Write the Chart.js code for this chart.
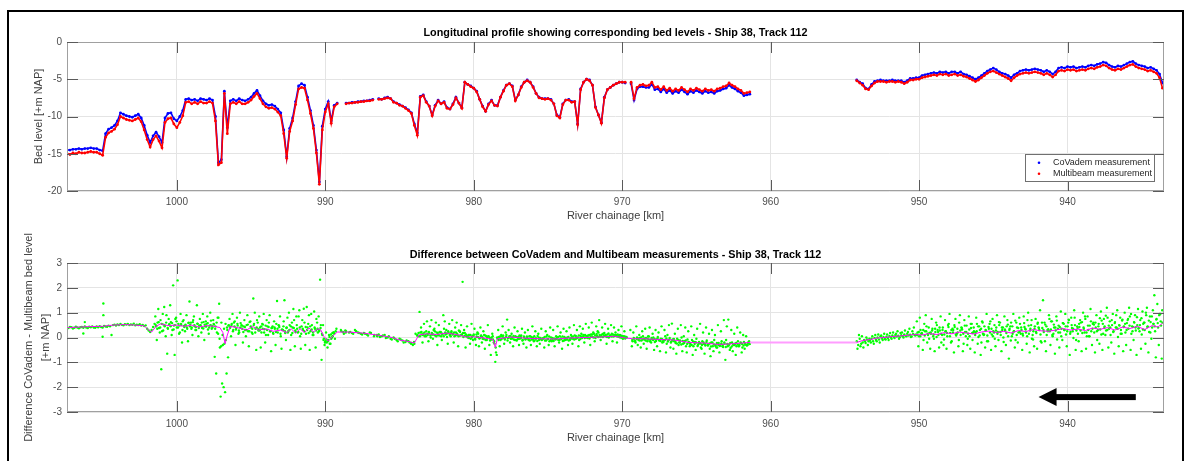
<!DOCTYPE html>
<html>
<head>
<meta charset="utf-8">
<title>CoVadem vs Multibeam - Ship 38, Track 112</title>
<script src="https://cdn.jsdelivr.net/npm/chart.js@4.4.1/dist/chart.umd.min.js"></script>
<style>
  html, body { margin: 0; padding: 0; background: #fff; }
  body { width: 1191px; height: 461px; position: relative; overflow: hidden; }
  canvas { position: absolute; left: 0; }
  #profile { top: 0; }
  #difference { top: 230px; }
  .frame { position: absolute; left: 7px; top: 10px; width: 1177px; height: 470px;
           border: 2px solid #000; border-bottom: none; box-sizing: border-box; pointer-events: none; }
</style>
</head>
<body>
<canvas id="profile" width="1191" height="230"></canvas>
<canvas id="difference" width="1191" height="231"></canvas>
<div class="frame"></div>
<script>
// ---------------------------------------------
// axis ranges and ticks (river chainage runs downstream to the right)
// ---------------------------------------------
const KM_MIN = 933.5;
const KM_MAX = 1007.4;
const kmTicks = [1000, 990, 980, 970, 960, 950, 940];
const bedTicks = [0, -5, -10, -15, -20];
const diffTicks = [3, 2, 1, 0, -1, -2, -3];

// ---------------------------------------------
// bed levels, sampled every 0.2 km
// west stretch starts at km 1007.4, east stretch at km 954.2
// ---------------------------------------------
const BED_STEP = 0.2;
const WEST_START = 1007.4;
const EAST_START = 954.2;

const covademWest = [
  -14.5,-14.5,-14.4,-14.4,-14.3,-14.4,-14.3,-14.3,-14.2,-14.3,   // 1007.4
  -14.3,-14.5,-14.6,-12.3,-11.7,-11.5,-11.2,-10.6,-9.5,-9.7,     // 1005.4
  -9.9,-10.0,-10.1,-9.9,-9.7,-10.2,-11.2,-12.5,-13.5,-12.6,      // 1003.4
  -12.1,-12.7,-13.5,-10.2,-9.6,-9.5,-10.3,-10.6,-10.0,-9.2,      // 1001.4
  -7.7,-7.6,-7.8,-7.7,-7.9,-7.6,-7.7,-7.8,-7.6,-7.8,             // 999.4
  -10.0,-16.2,-15.8,-6.6,-11.5,-7.9,-7.7,-7.9,-7.6,-7.8,         // 997.4
  -7.9,-7.7,-7.4,-6.9,-6.5,-7.2,-7.9,-8.3,-8.5,-8.4,             // 995.4
  -8.6,-9.0,-9.5,-11.8,-15.4,-11.6,-10.2,-8.0,-5.9,-5.6,         // 993.4
  -5.8,-7.4,-9.2,-11.2,-14.5,-18.8,-11.3,-9.0,-8.0,-10.6,        // 991.4
  -8.5,-8.2,null,null,-8.2,-8.2,-8.1,-8.1,-8.0,-8.0,             // 989.4
  -7.9,-7.9,-7.8,-7.7,null,-7.6,-7.7,-7.5,-7.4,-7.6,             // 987.4
  -8.0,-8.2,-8.4,-8.6,-8.8,-9.1,-9.5,-11.0,-12.2,-7.3,           // 985.4
  -7.1,-8.0,-8.6,-9.8,-8.5,-7.8,-8.3,-8.0,-8.8,-9.0,             // 983.4
  -8.3,-7.4,-8.2,-8.8,-5.4,-5.7,-5.9,-6.2,-6.6,-7.7,             // 981.4
  -8.6,-9.3,-8.3,-7.8,-8.5,-8.5,-7.4,-6.5,-5.8,-5.6,             // 979.4
  -5.9,-7.8,-7.1,-6.0,-5.4,-5.1,-5.4,-6.0,-6.9,-7.4,             // 977.4
  -7.6,-7.6,-7.6,-7.7,-8.3,-9.8,-10.1,-8.3,-7.8,-7.7,            // 975.4
  -8.0,-8.0,-11.0,-6.3,-5.4,-5.0,-5.1,-5.8,-8.7,-9.8,            // 973.4
  -10.8,-7.4,-6.4,-6.1,-5.8,-5.6,-5.4,-5.4,-5.5,null,            // 971.4
  -5.6,-7.8,-6.3,-6.0,-6.0,-6.1,-6.1,-5.7,-6.4,-6.3,             // 969.4
  -6.7,-6.3,-6.8,-6.5,-6.9,-6.6,-6.8,-6.4,-6.7,-7.0,             // 967.4
  -6.6,-6.8,-6.5,-6.7,-6.9,-6.6,-6.8,-6.7,-6.9,-6.6,             // 965.4
  -6.5,-6.3,-6.2,-5.8,-6.1,-6.3,-6.6,-6.8,-7.2,-7.1,             // 963.4
  -7.0                                                           // 961.4
];

const multibeamWest = [
  -15.0,-15.1,-14.9,-15.0,-14.8,-14.9,-14.9,-14.8,-14.7,-14.8,   // 1007.4
  -14.8,-15.0,-15.2,-12.8,-12.2,-12.0,-11.7,-11.1,-10.0,-10.2,   // 1005.4
  -10.4,-10.5,-10.6,-10.4,-10.2,-10.7,-11.8,-13.1,-14.1,-13.1,   // 1003.4
  -12.6,-13.3,-14.2,-10.8,-10.3,-10.2,-11.0,-11.5,-10.8,-9.9,    // 1001.4
  -8.1,-8.0,-8.3,-8.1,-8.3,-8.0,-8.2,-8.2,-8.0,-8.2,             // 999.4
  -10.6,-16.5,-16.2,-6.9,-12.3,-8.3,-8.1,-8.3,-8.0,-8.3,         // 997.4
  -8.3,-8.1,-7.8,-7.3,-6.9,-7.6,-8.3,-8.7,-8.9,-8.8,             // 995.4
  -9.0,-9.4,-9.9,-12.3,-15.6,-12.0,-10.6,-8.4,-6.3,-6.1,         // 993.4
  -6.2,-7.8,-9.6,-11.6,-14.9,-19.1,-11.8,-9.4,-8.3,-10.9,        // 991.4
  -8.7,-8.3,null,null,-8.3,-8.2,-8.2,-8.1,-8.1,-8.0,             // 989.4
  -8.0,-7.9,-7.9,-7.8,null,-7.7,-7.7,-7.6,-7.5,-7.6,             // 987.4
  -8.1,-8.2,-8.5,-8.6,-8.9,-9.2,-9.6,-11.2,-12.5,-7.4,           // 985.4
  -7.2,-8.1,-8.6,-9.9,-8.6,-7.9,-8.3,-8.1,-8.9,-9.0,             // 983.4
  -8.4,-7.5,-8.2,-8.9,-5.4,-5.7,-6.0,-6.2,-6.7,-7.7,             // 981.4
  -8.7,-9.3,-8.4,-7.9,-8.5,-8.6,-7.4,-6.6,-5.8,-5.6,             // 979.4
  -6.0,-7.9,-7.1,-6.1,-5.4,-5.2,-5.4,-6.1,-6.9,-7.5,             // 977.4
  -7.6,-7.7,-7.6,-7.8,-8.3,-9.9,-10.2,-8.4,-7.8,-7.8,            // 975.4
  -8.1,-8.0,-11.1,-6.4,-5.4,-5.0,-5.2,-5.8,-8.8,-9.8,            // 973.4
  -10.9,-7.5,-6.4,-6.1,-5.8,-5.6,-5.4,-5.4,-5.4,null,            // 971.4
  -5.4,-7.6,-6.1,-5.8,-5.7,-5.9,-5.8,-5.4,-6.1,-6.0,             // 969.4
  -6.4,-6.0,-6.5,-6.2,-6.6,-6.3,-6.5,-6.1,-6.4,-6.7,             // 967.4
  -6.3,-6.5,-6.2,-6.4,-6.6,-6.3,-6.5,-6.4,-6.6,-6.3,             // 965.4
  -6.2,-6.0,-5.9,-5.5,-5.8,-6.0,-6.3,-6.5,-6.9,-6.8,             // 963.4
  -6.7                                                           // 961.4
];

const covademEast = [
  -5.1,-5.4,-5.6,-6.2,-6.3,-5.7,-5.3,-5.2,-5.1,-5.2,   // 954.2
  -5.2,-5.2,-5.1,-5.2,-5.2,-5.2,-5.4,-5.2,-4.9,-4.9,   // 952.2
  -4.8,-4.8,-4.5,-4.4,-4.3,-4.2,-4.1,-4.2,-4.0,-4.1,   // 950.2
  -4.0,-4.2,-4.0,-4.0,-4.2,-4.0,-4.3,-4.4,-4.6,-4.8,   // 948.2
  -5.0,-4.8,-4.5,-4.2,-3.9,-3.7,-3.5,-3.7,-4.0,-4.2,   // 946.2
  -4.3,-4.5,-4.8,-4.4,-4.2,-3.9,-3.8,-3.7,-3.8,-3.7,   // 944.2
  -3.6,-3.7,-3.8,-4.0,-3.8,-4.0,-4.3,-4.0,-3.5,-3.4,   // 942.2
  -3.5,-3.3,-3.4,-3.3,-3.5,-3.4,-3.3,-3.4,-3.2,-3.1,   // 940.2
  -3.2,-3.0,-2.9,-2.7,-2.8,-3.1,-3.3,-3.4,-3.2,-3.3,   // 938.2
  -3.1,-2.9,-2.7,-2.6,-2.9,-3.1,-3.2,-3.3,-3.5,-3.4,   // 936.2
  -3.6,-3.8,-4.3,-5.5                                  // 934.2
];

const multibeamEast = [
  -5.2,-5.5,-5.8,-6.3,-6.4,-5.9,-5.5,-5.3,-5.3,-5.3,   // 954.2
  -5.4,-5.3,-5.3,-5.4,-5.3,-5.4,-5.6,-5.4,-5.1,-5.1,   // 952.2
  -5.0,-5.0,-4.8,-4.7,-4.6,-4.5,-4.4,-4.5,-4.3,-4.4,   // 950.2
  -4.3,-4.5,-4.4,-4.3,-4.5,-4.4,-4.6,-4.7,-4.9,-5.1,   // 948.2
  -5.3,-5.1,-4.8,-4.5,-4.2,-4.0,-3.9,-4.1,-4.3,-4.5,   // 946.2
  -4.7,-4.9,-5.2,-4.8,-4.5,-4.3,-4.2,-4.1,-4.2,-4.1,   // 944.2
  -4.0,-4.1,-4.2,-4.4,-4.2,-4.4,-4.7,-4.4,-3.9,-3.8,   // 942.2
  -3.9,-3.7,-3.8,-3.7,-3.9,-3.8,-3.7,-3.8,-3.6,-3.5,   // 940.2
  -3.6,-3.4,-3.3,-3.1,-3.2,-3.5,-3.7,-3.8,-3.6,-3.7,   // 938.2
  -3.5,-3.3,-3.1,-3.0,-3.3,-3.5,-3.6,-3.7,-3.9,-3.8,   // 936.2
  -4.0,-4.2,-4.8,-6.2                                  // 934.2
];

// ---------------------------------------------
// CoVadem - Multibeam differences, every 0.1 km
// ---------------------------------------------
const DIFF_STEP = 0.1;

const diffWest = [
  .40,.38,.42,.41,.36,.39,.43,.40,.37,.41,        // 1007.4
  .42,.39,.44,.40,.38,.43,.41,.45,.40,.39,        // 1006.4
  .44,.41,.46,.42,.40,.47,.44,.43,.48,.45,        // 1005.4
  .10,.50,.52,.48,.53,.50,.55,.51,.49,.54,        // 1004.4
  .52,.55,.50,.53,.51,.56,.49,.52,.50,.54,        // 1003.4
  .48,.51,.46,.49,.35,.28,.22,.30,.42,.55,        // 1002.4
  .45,.60,.38,.70,.25,.52,.48,.90,.35,.55,        // 1001.4
  .62,.30,.48,.75,.40,.55,.20,.50,.65,.42,        // 1000.4
  .48,.35,.60,.52,.40,.70,.45,.30,.55,.48,        // 999.4
  .50,.38,.62,.45,.55,.32,.48,.68,.40,.52,        // 998.4
  .45,.20,.80,-.40,.60,-.30,-.25,-.10,.30,.50,    // 997.4
  .42,.55,.30,.65,.38,.48,.20,.58,.35,.45,        // 996.4
  .30,.50,.25,.62,.40,.15,.55,.35,.70,.28,        // 995.4
  .40,.20,.52,.33,.10,.45,.60,.25,.38,.15,        // 994.4
  .35,.55,.20,.42,.05,.30,.65,.18,.40,.25,        // 993.4
  .50,.10,.40,.70,.22,.35,.85,.05,.45,.30,        // 992.4
  .60,.15,.40,.90,.25,.50,.10,.35,.75,.20,        // 991.4
  .30,.50,.10,-.05,-.15,-.20,-.10,-.25,-.05,.05,  // 990.4
  .15,.25,null,null,null,null,.22,null,.25,null,  // 989.4
  .20,null,.18,null,.30,null,.20,null,.15,null,   // 988.4
  .18,null,.12,null,.20,null,null,.10,null,.05,   // 987.4
  .12,null,.05,null,.10,null,.00,null,-.05,null,  // 986.4
  .00,null,-.10,null,-.05,null,-.12,null,-.18,null, // 985.4
  -.15,null,-.22,-.30,-.25,null,.10,.05,.20,.12,  // 984.4
  .15,.05,.25,.10,.18,.00,.12,.30,.08,.20,        // 983.4
  .10,.22,.05,.15,.35,.12,.02,.20,.10,.25,        // 982.4
  .15,.05,.20,.10,.28,.08,.12,.02,.18,.05,        // 981.4
  .00,.10,-.05,.05,.12,-.08,.02,.15,-.02,.08,     // 980.4
  -.05,.10,-.10,.02,.05,-.12,.00,-.08,-.25,-.60,  // 979.4
  -.05,.02,-.10,.05,.00,-.08,.10,-.02,.05,-.05,   // 978.4
  .00,-.08,.05,-.12,.02,-.05,.08,-.10,.00,-.06,   // 977.4
  -.02,-.10,.05,-.08,.00,-.12,-.04,.06,-.10,-.02, // 976.4
  -.08,-.02,-.12,.04,-.06,-.15,.00,-.10,-.04,-.08, // 975.4
  -.02,-.10,.05,-.06,-.14,.02,-.08,.00,-.12,-.04, // 974.4
  .02,-.06,.08,-.04,.00,-.10,.06,-.02,.04,.10,    // 973.4
  .00,.08,-.04,.12,.02,.15,-.02,.06,.20,.04,      // 972.4
  .10,.02,.18,.05,.12,.00,.08,.15,.04,.10,        // 971.4
  .06,.12,.02,.08,-.02,.05,-.04,.00,null,null,    // 970.4
  null,-.15,-.05,-.20,.00,-.10,-.02,-.12,.05,-.08, // 969.4
  -.02,-.15,.04,-.10,-.06,.00,-.18,-.08,.02,-.12, // 968.4
  -.05,-.20,-.10,.05,-.25,-.12,-.02,-.18,-.08,-.15, // 967.4
  -.22,-.05,-.30,-.12,.00,-.25,-.15,-.35,-.08,-.20, // 966.4
  -.28,-.10,-.35,-.18,-.05,-.30,-.22,-.40,-.15,-.25, // 965.4
  -.32,-.12,-.28,-.45,-.20,-.35,-.10,-.30,-.40,-.22, // 964.4
  -.30,-.15,-.38,-.25,-.10,-.35,-.28,-.42,-.20,-.30, // 963.4
  -.25,-.35,-.15,-.30,-.22,-.40,-.18,-.28,-.32,-.20, // 962.4
  -.25                                              // 961.4
];

const diffEast = [
  -.15,-.30,-.05,-.25,-.20,-.10,-.22,-.08,-.15,-.12, // 954.2
  -.05,-.15,-.02,-.10,.00,-.08,.05,-.04,.02,-.06,    // 953.2
  .03,-.02,.06,.00,.08,.02,.10,.04,.07,.01,          // 952.2
  .09,.05,.12,.06,.15,.08,.11,.04,.14,.10,           // 951.2
  .12,.20,.05,.30,.15,-.10,.25,.45,.10,.18,          // 950.2
  .15,.35,-.05,.22,.50,.10,.28,-.20,.40,.12,         // 949.2
  .25,.05,.55,.18,-.15,.30,.42,.08,.20,.60,          // 948.2
  .10,.32,-.25,.22,.48,.15,.05,.38,-.10,.25,         // 947.2
  .20,.55,.02,.30,-.20,.15,.45,.28,.08,.35,          // 946.2
  .65,.12,.25,-.05,.40,.22,.50,.10,.30,-.18,         // 945.2
  .28,.45,.05,.35,.60,.15,.25,-.10,.40,.20,          // 944.2
  .55,.30,.08,.42,.20,.70,.15,.35,-.05,.25,          // 943.2
  .45,.18,.60,.30,-.15,.38,.22,.52,.10,.33,          // 942.2
  .25,.65,.05,.40,.28,-.08,.48,.20,.35,.58,          // 941.2
  .30,.12,.45,.70,.22,.38,-.02,.50,.28,.15,          // 940.2
  .42,.60,.18,.35,.75,.05,.30,.48,.25,.55,           // 939.2
  .20,.40,-.10,.55,.32,.68,.15,.45,.28,.80,          // 938.2
  .35,.10,.50,.25,.62,.40,.02,.48,.30,.72,           // 937.2
  .45,.20,.58,.35,.85,.15,.42,.60,.28,.50,           // 936.2
  .38,.70,.12,.55,.30,.90,.45,.22,.62,.40,           // 935.2
  .55,.25,.75,.40,.95,.48,.60                        // 934.2
];

// second pass of the same survey, denser around the mean
const diffWestDense = [
  .50,.35,.62,.40,.55,.28,.45,.60,.38,.52,          // 1001.42
  .45,.58,.32,.50,.65,.40,.48,.55,.30,.47,          // 1000.42
  .52,.40,.58,.45,.35,.62,.50,.42,.56,.38,          // 999.42
  .48,.60,.36,.52,.44,.58,.40,.50,.46,.55,          // 998.42
  .35,.60,.15,-.05,-.35,.10,.35,.55,.40,.48,        // 997.42
  .38,.50,.25,.45,.32,.55,.28,.40,.48,.22,          // 996.42
  .42,.30,.52,.25,.45,.35,.50,.20,.40,.33,          // 995.42
  .28,.45,.35,.20,.48,.30,.42,.25,.38,.18,          // 994.42
  .40,.22,.35,.48,.15,.32,.45,.25,.38,.20,          // 993.42
  .30,.45,.18,.38,.28,.50,.22,.40,.15,.35,          // 992.42
  .25,.42,.30,.18,.45,.32,.20,.40,.28,.35,          // 991.42
  .25,.38,.15,-.10,-.20,-.08,-.15,.02,.12,.18,      // 990.42
  .20,null,null,null,null,.25,null,null,.20,null,   // 989.42
  null,.22,null,.15,null,.25,null,.18,null,.12,     // 988.42
  null,.15,null,.08,null,.18,null,.05,null,.10,     // 987.42
  null,.02,null,.08,null,-.02,null,.05,null,-.08,   // 986.42
  null,-.05,null,-.15,null,-.08,null,-.20,null,-.12, // 985.42
  null,-.20,-.25,null,-.18,.15,.08,.18,.05,.22,     // 984.42
  .10,.20,.05,.15,.22,.08,.18,.12,.25,.05,          // 983.42
  .18,.08,.22,.12,.05,.20,.15,.25,.10,.18,          // 982.42
  .12,.20,.08,.15,.05,.22,.10,.18,.06,.12,          // 981.42
  .05,-.02,.10,.00,.08,-.05,.12,.02,-.04,.06,       // 980.42
  .02,-.06,.08,-.10,.04,-.02,-.08,.05,-.15,-.40,    // 979.42
  .00,-.10,.04,-.06,.08,-.04,.02,-.12,.00,.06,      // 978.42
  -.04,.06,-.10,.02,-.06,.08,-.02,-.12,.04,-.08,    // 977.42
  .04,-.06,-.12,.02,-.08,.05,-.04,-.14,.00,-.06,    // 976.42
  -.10,-.04,.02,-.12,-.06,.04,-.10,-.02,-.14,-.06,  // 975.42
  -.06,.02,-.10,-.04,.04,-.12,-.02,-.08,.02,-.10,   // 974.42
  -.04,.04,-.08,.06,-.02,.08,-.06,.02,.10,-.02,     // 973.42
  .06,-.02,.10,.04,.12,.00,.08,.14,.02,.10,         // 972.42
  .04,.14,.06,.10,.02,.16,.08,.04,.12,.06,          // 971.42
  .10,.04,.08,.00,.06,-.02,.04,.02,null,null,       // 970.42
  null,-.10,-.02,-.14,-.06,-.04,-.12,.00,-.08,-.04, // 969.42
  -.12,-.04,-.08,-.16,-.02,-.10,-.06,-.14,-.04,-.10, // 968.42
  -.14,-.06,-.18,-.10,-.04,-.16,-.08,-.20,-.12,-.06, // 967.42
  -.16,-.24,-.10,-.20,-.28,-.14,-.22,-.12,-.26,-.18, // 966.42
  -.22,-.30,-.16,-.26,-.20,-.34,-.18,-.24,-.30,-.20, // 965.42
  -.26,-.18,-.32,-.24,-.36,-.20,-.28,-.34,-.22,-.30, // 964.42
  -.34,-.24,-.30,-.20,-.38,-.26,-.32,-.22,-.36,-.28, // 963.42
  -.30,-.22,-.28,-.34,-.20,-.26,-.32,-.24,-.30,-.22, // 962.42
  -.26                                               // 961.42
];

const diffEastDense = [
  .10,.22,.05,.18,.30,.08,.25,.15,-.05,.20,   // 950.12
  .28,.12,.35,.02,.22,.40,.15,.30,-.08,.25,   // 949.12
  .18,.42,.05,.30,.20,.50,.12,.35,-.10,.28,   // 948.12
  .38,.15,.48,.22,-.05,.32,.55,.18,.40,.10,   // 947.12
  .25,.45,.08,.35,.60,.12,.30,-.15,.42,.20,   // 946.12
  .35,.05,.50,.28,.15,.62,.22,.40,.00,.32,    // 945.12
  .18,.52,.30,-.12,.45,.25,.68,.10,.38,.22,   // 944.12
  .40,.15,.58,.32,.05,.48,.28,.70,-.08,.35,   // 943.12
  .22,.55,.38,.12,.60,.30,-.15,.45,.25,.75,   // 942.12
  .32,.10,.52,.40,.68,.20,.42,.05,.58,.30,    // 941.12
  .45,.25,.72,.15,.50,.35,.80,-.10,.38,.55,   // 940.12
  .28,.62,.40,.85,.20,.48,.05,.65,.35,.52,    // 939.12
  .60,.25,.45,.78,.12,.55,.38,.88,.30,.48,    // 938.12
  .40,.70,.22,.58,.90,.35,.50,.15,.68,.42,    // 937.12
  .55,.30,.75,.48,.95,.25,.62,.40,.82,.36,    // 936.12
  .50,.78,.32,.60,1.00,.42,.68,.20,.85,.55,   // 935.12
  .45,.72,.58,.90,.65,1.10                    // 934.12
];

// wider scatter in the noisy stretches
const spreadA = [
  .85,-.10,1.15,.20,-1.28,.95,1.23,.05,-.65,.75,          // 1001.45
  1.30,.10,2.10,-.70,.80,2.30,.15,.95,-.20,.70,           // 1000.45
  .25,.90,-.15,1.45,.60,.10,.85,.30,1.30,.05,             // 999.45
  .75,.20,.95,-.10,.65,.85,.15,1.00,.35,.70,              // 998.45
  -.78,-1.45,.80,1.36,-2.38,-1.85,-2.00,-2.20,-1.45,-.80, // 997.45
  .75,.05,.95,.60,-.30,.80,.15,1.00,.50,-.20,             // 996.45
  .70,.05,.90,-.35,.65,.20,1.57,1.00,-.50,.60,            // 995.45
  .85,-.40,.55,.95,-.20,.70,.10,.90,-.55,.45,             // 994.45
  .65,-.30,1.47,.50,.85,-.45,.30,1.50,-.10,.80,           // 993.45
  1.00,-.50,.60,1.15,-.35,.85,.20,1.10,-.45,.70,          // 992.45
  1.16,-.30,1.23,.55,-.50,.95,.10,1.05,-.40,.60,          // 991.45
  .85,2.33,-.90,.50,-.30,.20,-.40,.10,-.25,.00,           // 990.45
  .20,-.05,.35,null,null,.30,null,.15,.28                 // 989.45
];

const spreadB = [
  1.03,.40,-.20,.55,.10,.65,-.15,.45,.70,-.05,    // 983.65
  .35,.60,-.30,.50,.20,-.10,.90,.65,.30,-.25,     // 982.65
  .55,.05,.70,-.20,.40,.60,-.35,.25,.50,2.24,     // 981.65
  .30,-.40,.45,.10,-.25,.55,-.10,.35,-.30,.20,    // 980.65
  -.35,.40,-.20,.25,-.45,.05,.50,-.30,-.70,.15,   // 979.65
  -.20,-.98,-.70,.30,-.35,.10,.45,-.25,.20,.72,   // 978.65
  .30,-.20,.15,-.35,.40,-.10,.25,-.30,.05,.35,    // 977.65
  -.25,.20,-.40,.30,.05,-.30,.45,-.15,.25,-.35,   // 976.65
  .15,-.25,.35,-.05,-.40,.25,.10,-.30,.40,-.15,   // 975.65
  .30,-.35,.05,.45,-.20,.20,-.45,.35,-.10,.25,    // 974.65
  -.30,.40,.10,-.25,.50,-.05,.30,-.35,.45,.15,    // 973.65
  .35,-.20,.55,.05,.40,-.30,.60,.20,-.15,.45,     // 972.65
  .25,.70,-.10,.40,.15,.55,-.25,.35,.05,.50,      // 971.65
  -.15,.40,.20,-.20,.30,.10,.45,-.05,.25,null,    // 970.65
  null,null,.30,-.35,.20,-.15,.45,-.30,.10,-.40,  // 969.65
  .25,-.25,.35,-.45,.05,.40,-.20,.15,-.50,.30,    // 968.65
  -.35,.20,-.55,.45,-.15,.30,-.60,.10,.50,-.40,   // 967.65
  .56,-.45,.15,-.65,.35,-.20,.50,-.55,.05,.40,    // 966.65
  -.60,.25,-.35,.45,-.70,.10,-.50,.35,-.25,.55,   // 965.65
  -.45,.20,-.65,.40,-.30,.15,-.75,.30,-.55,.10,   // 964.65
  -.40,.50,-.60,.25,-.35,.70,-.90,.45,.72,-.50,   // 963.65
  .30,-.55,.15,-.70,.40,-.35,.20,-.60,.10,-.45,   // 962.65
  .05,-.30,-.15                                   // 961.65
];

const spreadC = [
  -.45,.10,-.35,.05,-.40,-.15,.00,-.30,-.05,-.20,  // 954.15
  .05,-.25,.10,-.15,.12,-.20,.08,-.10,.15,-.08,    // 953.15
  .12,-.10,.18,-.05,.20,-.02,.15,.25,-.05,.18,     // 952.15
  .20,.00,.28,.05,.22,.35,.02,.25,.40,.08,         // 951.15
  .65,-.35,.80,.15,-.50,.55,.90,-.20,.40,-.45,     // 950.15
  .75,.05,-.55,.60,.30,-.40,.85,.10,-.30,.70,      // 949.15
  -.45,.50,.95,-.20,.35,-.60,.75,.15,-.35,.90,     // 948.15
  .40,-.55,.70,.05,-.30,.85,-.45,.55,.20,-.60,     // 947.15
  .80,-.25,.45,-.70,.65,.10,-.40,.95,-.15,.55,     // 946.15
  -.50,.75,.20,-.35,.90,-.10,.60,-.55,.40,.85,     // 945.15
  -.30,.70,-.85,.45,.05,.95,-.40,.60,-.20,.80,     // 944.15
  .15,-.50,.85,.35,-.25,1.00,-.60,.50,.10,-.35,    // 943.15
  .75,-.45,.40,1.10,-.20,1.50,.60,-.55,.30,.90,    // 942.15
  -.30,.65,.15,-.65,.85,.35,-.40,1.05,-.10,.55,    // 941.15
  .95,-.35,.60,-.70,.80,.25,1.10,-.50,.45,-.15,    // 940.15
  .70,-.55,1.00,.20,-.45,.85,.05,1.15,-.30,.60,    // 939.15
  -.60,.90,.30,-.25,1.05,-.50,.75,.10,1.20,-.40,   // 938.15
  .65,-.20,.95,-.65,.40,1.10,-.35,.80,.15,-.55,    // 937.15
  1.00,-.30,.70,1.20,-.50,.45,-.10,.90,-.70,1.15,  // 936.15
  .25,-.45,1.05,.60,-.25,1.20,-.60,.85,-.05,1.10,  // 935.15
  1.70,-.80,1.35,-.30,.95,-.85                     // 934.15
];

// isolated points in the quiet upstream stretch
const outlierKm   = [1006.3, 1006.2, 1005.0, 1004.95, 1004.95];
const outlierDiff = [0.16, 0.62, 0.03, 0.90, 1.37];

// running mean of the difference
const meanKm = [
  1007.4, 1006.5, 1005.8, 1005.0, 1004.3, 1003.5, 1002.8, 1002.2, 1001.9, 1001.7,
  1001.4, 1001.1, 1000.6, 1000.0, 999.5, 999.0, 998.5, 998.0, 997.5, 997.1,
  996.9, 996.75, 996.6, 996.4, 995.8, 995.3, 994.9, 994.5, 994.0, 993.5,
  993.0, 992.6, 992.3, 992.0, 991.7, 991.4, 991.1, 990.8, 990.5, 990.3,
  990.1, 989.8, 989.5, 989.2, 988.5, 987.5, 986.5, 985.5, 985.0, 984.5,
  984.0, 983.7, 983.2, 982.5, 981.8, 981.0, 980.5, 980.0, 979.3, 978.7,
  978.55, 978.4, 977.5, 976.5, 975.5, 974.5, 973.5, 972.5, 971.5, 970.5,
  969.8, 969.3, 968.5, 967.5, 966.5, 965.5, 964.5, 963.5, 962.5, 961.4,
  954.2, 953.8, 953.3, 952.8, 952.3, 951.8, 951.3, 950.8, 950.3, 949.8,
  949.3, 948.8, 948.3, 947.8, 947.3, 946.8, 946.3, 945.8, 945.3, 944.8,
  944.3, 943.8, 943.3, 942.8, 942.3, 941.8, 941.3, 940.8, 940.3, 939.8,
  939.3, 938.8, 938.3, 937.8, 937.3, 936.8, 936.3, 935.8, 935.3, 934.8,
  934.3, 933.9, 933.6
];
const meanDiff = [
  0.40, 0.42, 0.44, 0.45, 0.50, 0.52, 0.50, 0.47, 0.30, 0.22,
  0.45, 0.55, 0.48, 0.50, 0.45, 0.50, 0.42, 0.48, 0.45, 0.40,
  0.20, -0.25, 0.10, 0.45, 0.38, 0.30, 0.45, 0.30, 0.35, 0.25,
  0.30, 0.20, 0.35, 0.18, 0.35, 0.20, 0.38, 0.22, 0.35, 0.30,
  0.05, -0.15, 0.05, 0.22, 0.22, 0.18, 0.10, 0.00, -0.10, -0.15,
  -0.22, 0.10, 0.15, 0.12, 0.18, 0.10, 0.02, 0.03, -0.02, -0.08,
  -0.40, -0.05, 0.02, -0.03, -0.05, -0.06, -0.02, 0.00, 0.02, 0.05,
  -0.02, -0.05, -0.05, -0.08, -0.10, -0.20, -0.22, -0.28, -0.25, -0.20,
  -0.20, -0.12, -0.08, -0.02, 0.00, 0.04, 0.06, 0.09, 0.12, 0.10,
  0.16, 0.12, 0.20, 0.15, 0.22, 0.18, 0.14, 0.22, 0.26, 0.20,
  0.25, 0.18, 0.28, 0.24, 0.32, 0.27, 0.25, 0.30, 0.36, 0.30,
  0.34, 0.28, 0.38, 0.33, 0.40, 0.30, 0.42, 0.36, 0.45, 0.32,
  0.48, 0.42, 0.58
];

// ---------------------------------------------
// helpers
// ---------------------------------------------
const FONT = '"Liberation Sans", Arial, Helvetica, sans-serif';

function stations(start, step, n) {
  const out = [];
  for (let i = 0; i < n; i++) out.push(+(start - i * step).toFixed(3));
  return out;
}

// keepGaps leaves the nulls in, so a connecting line breaks there
function points(start, step, values, keepGaps) {
  const km = stations(start, step, values.length);
  const pts = values.map((v, i) => ({ x: km[i], y: v }));
  return keepGaps ? pts : pts.filter(p => p.y !== null);
}

function pairs(xs, ys) {
  return ys.map((v, i) => ({ x: xs[i], y: v }));
}

function profile(west, east) {
  return points(WEST_START, BED_STEP, west, true)
    .concat([{ x: (WEST_START + EAST_START) / 2, y: null }])
    .concat(points(EAST_START, BED_STEP, east, true));
}

// axes box, MATLAB style inward ticks, title, legend and the flow arrow
const axesDecor = {
  id: 'axesDecor',
  afterDatasetsDraw(chart, args, o) {
    const { ctx, chartArea: a, scales: { x, y } } = chart;
    ctx.save();

    ctx.strokeStyle = '#a0a0a0';
    ctx.lineWidth = 1;
    ctx.strokeRect(a.left + 0.5, a.top + 0.5, a.width - 1, a.height - 1);

    ctx.strokeStyle = '#5a5a5a';
    ctx.beginPath();
    x.ticks.forEach(t => {
      const px = Math.round(x.getPixelForValue(t.value)) + 0.5;
      ctx.moveTo(px, a.top); ctx.lineTo(px, a.top + 11);
      ctx.moveTo(px, a.bottom); ctx.lineTo(px, a.bottom - 11);
    });
    y.ticks.forEach(t => {
      const py = Math.round(y.getPixelForValue(t.value)) + 0.5;
      ctx.moveTo(a.left, py); ctx.lineTo(a.left + 11, py);
      ctx.moveTo(a.right, py); ctx.lineTo(a.right - 11, py);
    });
    ctx.stroke();

    ctx.fillStyle = '#000';
    ctx.font = 'bold 10.8px ' + FONT;
    ctx.textAlign = 'center';
    ctx.textBaseline = 'middle';
    ctx.fillText(o.title, (a.left + a.right) / 2, a.top - o.titleGap);

    if (o.legend) {
      const w = 129, h = 27;
      const bx = a.right - 10 - w, by = a.bottom - 10 - h;
      ctx.fillStyle = '#fff';
      ctx.fillRect(bx, by, w, h);
      ctx.strokeStyle = '#707070';
      ctx.strokeRect(bx + 0.5, by + 0.5, w, h);
      ctx.font = '9px ' + FONT;
      ctx.textAlign = 'left';
      chart.data.datasets.forEach((ds, i) => {
        const cy = by + 8.7 + i * 11;
        ctx.fillStyle = ds.backgroundColor;
        ctx.beginPath();
        ctx.arc(bx + 14, cy, 1.3, 0, Math.PI * 2);
        ctx.fill();
        ctx.fillStyle = '#262626';
        ctx.fillText(ds.label, bx + 28, cy);
      });
    }

    if (o.arrow) {
      const xTail = x.getPixelForValue(o.arrow.from);
      const xTip = x.getPixelForValue(o.arrow.to);
      const yy = y.getPixelForValue(o.arrow.level);
      const head = 18;
      ctx.fillStyle = '#000';
      ctx.fillRect(xTip + head - 1, yy - 3, xTail - xTip - head + 1, 6);
      ctx.beginPath();
      ctx.moveTo(xTip, yy);
      ctx.lineTo(xTip + head, yy - 9);
      ctx.lineTo(xTip + head, yy + 9);
      ctx.closePath();
      ctx.fill();
    }
    ctx.restore();
  }
};

function kmAxis(axisHeight, titlePad, tickPad) {
  return {
    type: 'linear',
    reverse: true,
    min: KM_MIN,
    max: KM_MAX,
    afterBuildTicks: s => { s.ticks = kmTicks.map(v => ({ value: v })); },
    afterFit: s => { s.height = axisHeight; },
    grid: { color: '#e4e4e4', drawTicks: false },
    border: { display: false },
    ticks: { padding: tickPad, color: '#4d4d4d', font: { family: FONT, size: 10 }, callback: v => String(v) },
    title: {
      display: true, text: 'River chainage [km]', color: '#404040',
      font: { family: FONT, size: 11 }, padding: { top: 0, bottom: titlePad }
    }
  };
}

function levelAxis(tickList, title, titleTop, lineHeight) {
  return {
    type: 'linear',
    min: tickList[tickList.length - 1],
    max: tickList[0],
    afterBuildTicks: s => { s.ticks = tickList.map(v => ({ value: v })); },
    afterFit: s => { s.width = 67; },
    grid: { color: '#e4e4e4', drawTicks: false },
    border: { display: false },
    ticks: { padding: 5, color: '#4d4d4d', font: { family: FONT, size: 10 }, callback: v => String(v) },
    title: {
      display: true, text: title, color: '#404040',
      font: { family: FONT, size: 11, lineHeight: lineHeight }, padding: { top: titleTop, bottom: 0 }
    }
  };
}

// ---------------------------------------------
// 1) LONGITUDINAL PROFILE
// ---------------------------------------------
new Chart(document.getElementById('profile'), {
  type: 'scatter',
  data: {
    datasets: [
      {
        label: 'CoVadem measurement',
        data: profile(covademWest, covademEast),
        backgroundColor: '#0000ff',
        borderColor: '#0000ff',
        showLine: true,
        borderWidth: 1.6,
        pointRadius: 1.4,
        pointBorderWidth: 0,
        order: 2
      },
      {
        label: 'Multibeam measurement',
        data: profile(multibeamWest, multibeamEast),
        backgroundColor: '#ff0000',
        borderColor: '#ff0000',
        showLine: true,
        borderWidth: 1.6,
        pointRadius: 1.4,
        pointBorderWidth: 0,
        order: 1
      }
    ]
  },
  options: {
    responsive: false,
    animation: false,
    layout: { padding: { top: 42, right: 27, bottom: 0, left: 0 } },
    scales: {
      x: kmAxis(39, 7, 5),
      y: levelAxis(bedTicks, 'Bed level [+m NAP]', 32, 1.2)
    },
    plugins: {
      legend: { display: false },
      tooltip: { enabled: false },
      axesDecor: {
        title: 'Longitudinal profile showing corresponding bed levels - Ship 38, Track 112',
        titleGap: 8.5,
        legend: true
      }
    }
  },
  plugins: [axesDecor]
});

// ---------------------------------------------
// 2) DIFFERENCE BETWEEN THE TWO SURVEYS
// ---------------------------------------------
const greenPoints = []
  .concat(points(WEST_START, DIFF_STEP, diffWest))
  .concat(points(EAST_START, DIFF_STEP, diffEast))
  .concat(points(1001.42, DIFF_STEP, diffWestDense))
  .concat(points(950.12, DIFF_STEP, diffEastDense))
  .concat(points(1001.45, DIFF_STEP, spreadA))
  .concat(points(983.65, DIFF_STEP, spreadB))
  .concat(points(954.15, DIFF_STEP, spreadC))
  .concat(pairs(outlierKm, outlierDiff));

new Chart(document.getElementById('difference'), {
  type: 'scatter',
  data: {
    datasets: [
      {
        label: 'Running mean',
        data: pairs(meanKm, meanDiff),
        showLine: true,
        borderColor: '#ff00ff',
        borderWidth: 1,
        pointRadius: 0,
        segment: {
          borderColor: c => (c.p0.parsed.x - c.p1.parsed.x > 3 ? '#ff9cff' : undefined),
          borderWidth: c => (c.p0.parsed.x - c.p1.parsed.x > 3 ? 2 : undefined)
        },
        order: 0
      },
      {
        label: 'Difference',
        data: greenPoints,
        backgroundColor: '#00ff00',
        pointRadius: 1.2,
        pointBorderWidth: 0,
        order: 1
      }
    ]
  },
  options: {
    responsive: false,
    animation: false,
    layout: { padding: { top: 33, right: 27, bottom: 0, left: 0 } },
    scales: {
      x: kmAxis(49, 16, 6),
      y: levelAxis(diffTicks, ['Difference CoVadem - Multibeam bed level', '[+m NAP]'], 21, 1.5)
    },
    plugins: {
      legend: { display: false },
      tooltip: { enabled: false },
      axesDecor: {
        title: 'Difference between CoVadem and Multibeam measurements - Ship 38, Track 112',
        titleGap: 7.5,
        arrow: { from: 935.4, to: 941.95, level: -2.4 }
      }
    }
  },
  plugins: [axesDecor]
});
</script>
</body>
</html>
